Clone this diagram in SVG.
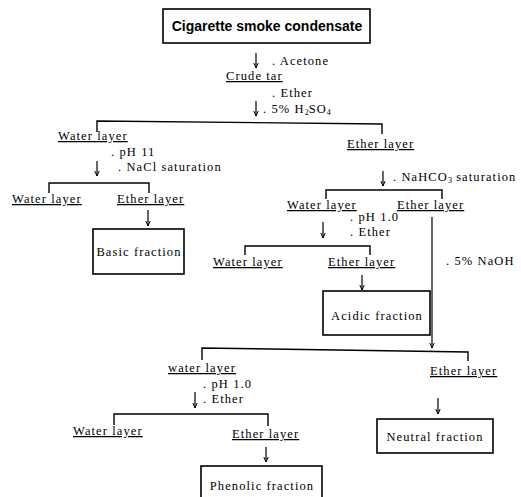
<svg xmlns="http://www.w3.org/2000/svg" width="521" height="497" viewBox="0 0 521 497">
<defs>
<marker id="ah" markerWidth="6" markerHeight="6" refX="5.5" refY="3" orient="auto" markerUnits="userSpaceOnUse" viewBox="0 0 6 6">
<path d="M0.5,0.8 L5.5,3 L0.5,5.2" fill="none" stroke="#000" stroke-width="1"/>
</marker>
</defs>
<style>
text{font-family:"Liberation Serif","Times New Roman",serif;font-size:12.5px;letter-spacing:1.1px;fill:#000}
.t{font-size:14px;font-family:"Liberation Sans",Arial,sans-serif;font-weight:bold;letter-spacing:0px}
.u{text-decoration:underline}
.s{font-size:8px;letter-spacing:0}
.box{fill:#fff;stroke:#000;stroke-width:1.6}
.ln{fill:none;stroke:#000;stroke-width:1.4}
.ar{fill:none;stroke:#000;stroke-width:1.2;marker-end:url(#ah)}
</style>
<rect width="521" height="497" fill="#fff"/>
<g id="connectors">
<line class="ar" x1="256" y1="53" x2="256" y2="68"/>
<line class="ar" x1="256" y1="101" x2="256" y2="116"/>
<path class="ln" d="M97,132 V121 L382,124 V134"/>
<line class="ar" x1="97" y1="161" x2="97" y2="176"/>
<path class="ln" d="M49,193 V183 H149 V193"/>
<line class="ar" x1="148" y1="210" x2="148" y2="226"/>
<line class="ar" x1="383" y1="171" x2="383" y2="186"/>
<path class="ln" d="M326,199 V190 H442 V199"/>
<line class="ar" x1="323" y1="222" x2="323" y2="238"/>
<path class="ln" d="M245,255 V246 H370 V255"/>
<line class="ar" x1="362" y1="275" x2="362" y2="290"/>
<line class="ar" x1="432" y1="217" x2="432" y2="348"/>
<path class="ln" d="M202,360 V348 L468,352 V361"/>
<line class="ar" x1="195" y1="392" x2="195" y2="408"/>
<path class="ln" d="M114,425 V414 H268 V426"/>
<line class="ar" x1="266" y1="447" x2="266" y2="462"/>
<line class="ar" x1="438" y1="398" x2="438" y2="414"/>
</g>
<g id="n-cigarette">
<rect class="box" x="163" y="9" width="207" height="34"/>
<text class="t" x="267" y="31" text-anchor="middle">Cigarette smoke condensate</text>
</g>
<g id="l-acetone"><text x="272" y="65">. Acetone</text></g>
<g id="n-crude"><text class="u" x="226" y="80">Crude tar</text></g>
<g id="l-ether1"><text x="272" y="97">. Ether</text><text x="263" y="113">. 5% H<tspan class="s" dy="2">2</tspan><tspan dy="-2">SO</tspan><tspan class="s" dy="2">4</tspan></text></g>
<g id="n-water1"><text class="u" x="58" y="140">Water layer</text></g>
<g id="n-ether1"><text class="u" x="347" y="148">Ether layer</text></g>
<g id="l-ph11"><text x="111" y="156">. pH 11</text><text x="118" y="171">. NaCl saturation</text></g>
<g id="n-water2"><text class="u" x="12" y="203">Water layer</text></g>
<g id="n-ether2"><text class="u" x="117" y="203">Ether layer</text></g>
<g id="n-basic">
<rect class="box" x="93" y="229" width="91" height="45"/>
<text x="139" y="256" text-anchor="middle">Basic fraction</text>
</g>
<g id="l-nahco3"><text x="393" y="181">. NaHCO<tspan class="s" dy="2">3</tspan><tspan dy="-2"> saturation</tspan></text></g>
<g id="n-water3"><text class="u" x="287" y="209">Water layer</text></g>
<g id="n-ether3"><text class="u" x="397" y="209">Ether layer</text></g>
<g id="l-ph1a"><text x="350" y="221">. pH 1.0</text><text x="350" y="236">. Ether</text></g>
<g id="n-water4"><text class="u" x="213" y="266">Water layer</text></g>
<g id="n-ether4"><text class="u" x="328" y="266">Ether layer</text></g>
<g id="l-naoh"><text x="446" y="265">. 5% NaOH</text></g>
<g id="n-acidic">
<rect class="box" x="323" y="291" width="107" height="44"/>
<text x="377" y="320" text-anchor="middle">Acidic fraction</text>
</g>
<g id="n-water5"><text class="u" x="168" y="372">water layer</text></g>
<g id="n-ether5"><text class="u" x="430" y="375">Ether layer</text></g>
<g id="l-ph1b"><text x="203" y="388">. pH 1.0</text><text x="203" y="403">. Ether</text></g>
<g id="n-water6"><text class="u" x="73" y="435">Water layer</text></g>
<g id="n-ether6"><text class="u" x="232" y="438">Ether layer</text></g>
<g id="n-phenolic">
<rect class="box" x="201" y="466" width="121" height="40"/>
<text x="262" y="490" text-anchor="middle">Phenolic fraction</text>
</g>
<g id="n-neutral">
<rect class="box" x="377" y="419" width="116" height="34"/>
<text x="435" y="441" text-anchor="middle">Neutral fraction</text>
</g>
</svg>
